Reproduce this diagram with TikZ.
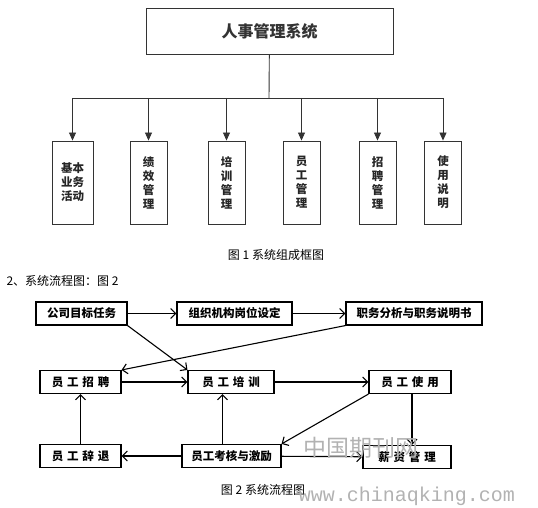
\documentclass[tikz,border=0pt]{standalone}
\usepackage{fontspec}
\setmainfont{Noto Sans CJK SC}
\newfontfamily\wmfont{Liberation Mono}
\usetikzlibrary{arrows.meta,positioning,calc}
\tikzset{
  topbox/.style={draw=black!80,line width=0.9pt,minimum width=247pt,minimum height=46pt,
    text=black!80,font=\bfseries\fontsize{16}{16}\selectfont},
  modbox/.style={draw=black!80,line width=0.9pt,minimum width=37pt,minimum height=83pt,
    inner sep=1pt,align=center,text=black!85,font=\bfseries\fontsize{11.5}{14}\selectfont},
  stepbox/.style={draw,line width=1.1pt,minimum height=23pt,inner sep=2pt,
    font=\bfseries\fontsize{11.5}{12}\selectfont},
  tree/.style={draw=black!80,line width=0.9pt},
  treearrow/.style={tree,-{Triangle[length=8pt,width=7pt]}},
  flow/.style={line width=1.1pt,-{Straight Barb[length=5pt,width=10pt]}},
  caption/.style={font=\fontsize{12}{12}\selectfont},
  watermark/.style={text=black!30}
}
\begin{document}
\begin{tikzpicture}[x=1pt,y=-1pt]
  \useasboundingbox (0,0) rectangle (538,508);
  % Fig. 1: system structure
  \node[topbox] (hr) at (269.5,31) {人事管理系统};
  \node[modbox,minimum width=41pt] (basic) at (72.5,182.5) {基本\\业务\\活动};
  \node[modbox] (perf) at (148.5,182.5) {绩\\效\\管\\理};
  \node[modbox] (train) at (226.5,182.5) {培\\训\\管\\理};
  \node[modbox] (staff) at (301.5,182.5) {员\\工\\管\\理};
  \node[modbox] (recruit) at (377.5,182.5) {招\\聘\\管\\理};
  \node[modbox] (manual) at (443,182.5) {使\\用\\说\\明};
  \coordinate (bus) at (269,98);
  \draw[tree] (hr) -- (bus);
  \draw[tree] (basic|-bus) -- (manual|-bus);
  \foreach \m in {basic,perf,train,staff,recruit,manual}
    \draw[treearrow] (\m|-bus) -- (\m.north);
  \node[caption] (cap1) at (276,255) {图 1 系统组成框图};
  \node[caption,anchor=west] (sec2) at (3,281) {2、系统流程图：图 2};
  % Fig. 2: system flow
  \node[stepbox,minimum width=91pt] (goal) at (81.5,313.5) {公司目标任务};
  \node[stepbox,minimum width=115pt] (org) at (234.5,313.5) {组织机构岗位设定};
  \node[stepbox,minimum width=136pt] (duty) at (414,313.5) {职务分析与职务说明书};
  \node[stepbox,minimum width=81pt] (hire) at (80.5,382) {员\,\,工\,\,招\,\,聘};
  \node[stepbox,minimum width=86pt] (trn) at (231,382) {员\,\,工\,\,培\,\,训};
  \node[stepbox,minimum width=82pt] (use) at (410,382) {员\,\,工\,\,使\,\,用};
  \node[stepbox,minimum width=81pt] (quit) at (80.5,456) {员\,\,工\,\,辞\,\,退};
  \node[stepbox,minimum width=99pt] (eval) at (231.5,456) {员工考核与激励};
  \node[stepbox,minimum width=88pt] (pay) at (407,457) {薪\,\,资\,\,管\,\,理};
  \draw[flow] (goal) -- (org);
  \draw[flow] (org) -- (duty);
  \draw[flow] (goal.south east) -- (trn.north west);
  \draw[flow] (duty.south west) -- (hire.north east);
  \draw[flow] (hire) -- (trn);
  \draw[flow] (trn) -- (use);
  \draw[flow] (use.south west) -- (eval.north east);
  \draw[flow] ([xshift=2pt]use.south) -- ([xshift=2pt]use.south|-pay.north);
  \draw[flow] ([xshift=-9pt]eval.north) -- ([xshift=-9pt]eval.north|-trn.south);
  \draw[flow] (eval) -- (quit);
  \draw[flow] (eval) -- (pay);
  \draw[flow] (quit) -- (hire);
  \node[caption] (cap2) at (263,490) {图 2 系统流程图};
  % watermark
  \node[watermark,font=\fontsize{23}{23}\selectfont] (wmcn) at (361,448) {中国期刊网};
  \node[watermark,font=\wmfont\fontsize{20}{20}\selectfont] (wmurl) at (407,496) {www.chinaqking.com};
\end{tikzpicture}
\end{document}
